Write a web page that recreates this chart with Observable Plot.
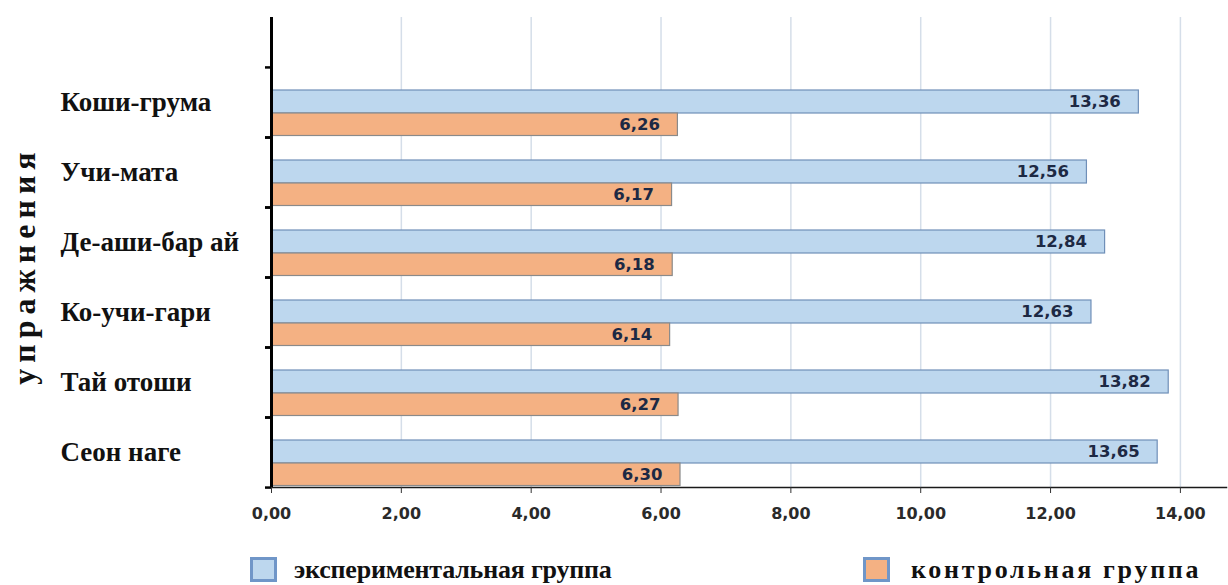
<!DOCTYPE html>
<html>
<head>
<meta charset="utf-8">
<script src="https://cdn.jsdelivr.net/npm/d3@7"></script>
<script src="https://cdn.jsdelivr.net/npm/@observablehq/plot@0.6"></script>
<style>
  html, body { margin: 0; padding: 0; background: #fff; }
  #wrap { position: relative; width: 1228px; height: 585px; overflow: hidden; }
  .lg-sw { position: absolute; width: 21px; height: 19px; border: 3px solid #7096c8; }
  .lg-tx { position: absolute; font-family: "Liberation Serif", serif; font-weight: bold; font-size: 26px; line-height: 30px; color: #111; white-space: nowrap; }
</style>
</head>
<body>
<div id="wrap"></div>
<script>
const categories = ["Коши-грума", "Учи-мата", "Де-аши-бар ай", "Ко-учи-гари", "Тай отоши", "Сеон наге"];
const experimental = [13.36, 12.56, 12.84, 12.63, 13.82, 13.65];
const control = [6.26, 6.17, 6.18, 6.14, 6.27, 6.30];
const xTicks = [0, 2, 4, 6, 8, 10, 12, 14];
const seriesNames = ["экспериментальная группа", "контрольная группа"];
const axisTitle = "упражнения";

const colors = { exp: "#bdd7ee", ctl: "#f4b183" };
const fmt = d => d.toFixed(2).replace(".", ",");
const data = categories.map((c, i) => ({ cat: c, exp: experimental[i], ctl: control[i] }));

const H = 540, MT = 17, MB = 53;
const bandStep = (H - MT - MB) / (categories.length + 0.7);

const chart = Plot.plot({
  width: 1228,
  height: H,
  marginLeft: 271,
  marginRight: 2,
  marginTop: MT,
  marginBottom: MB,
  x: { domain: [0, 14.71] },
  y: { domain: categories, paddingInner: 0, paddingOuter: 0.35, align: 1 },
  style: { background: "#fff", overflow: "visible" },
  marks: [
    Plot.gridX(xTicks.slice(1), { stroke: "#d5dee9", strokeOpacity: 1, strokeWidth: 1.5 }),
    Plot.barX(data, { y: "cat", x: "exp", fill: colors.exp, stroke: "#6f8fb8", strokeWidth: 1.2, insetTop: 23, insetBottom: 24 }),
    Plot.barX(data, { y: "cat", x: "ctl", fill: colors.ctl, stroke: "#8a8a8a", strokeWidth: 1.2, insetTop: 46, insetBottom: 1.5 }),
    Plot.text(data, { y: "cat", x: "exp", text: d => fmt(d.exp), textAnchor: "end", dx: -18, dy: -1,
      fill: "#1d2944", fontFamily: "DejaVu Sans", fontWeight: "bold", fontSize: 16.5 }),
    Plot.text(data, { y: "cat", x: "ctl", text: d => fmt(d.ctl), textAnchor: "end", dx: -18, dy: 22,
      fill: "#1d2944", fontFamily: "DejaVu Sans", fontWeight: "bold", fontSize: 16.5 }),
    Plot.frame({ anchor: "bottom", stroke: "#1a1a1a", strokeWidth: 1.5 }),
    Plot.axisX({ ticks: xTicks, tickFormat: fmt, tickSize: 6, tickPadding: 14, label: null,
      fontFamily: "DejaVu Sans", fontWeight: "bold", fontSize: 16, fill: "#2a2a2a", stroke: "#333" }),
    Plot.axisY({ tickSize: 0, tickPadding: 0, textAnchor: "start", dx: -211, label: null,
      fontFamily: "Liberation Serif", fontWeight: "bold", fontSize: 27, fill: "#111" }),
    Plot.axisY({ tickSize: 6, tickFormat: () => "", dy: bandStep / 2, label: null, stroke: "#000", strokeWidth: 2.5 }),
    Plot.axisY({ tickSize: 6, tickFormat: () => "", dy: -bandStep / 2, label: null, stroke: "#000", strokeWidth: 2.5 }),
    Plot.ruleX([0], { stroke: "#000", strokeWidth: 3 }),
    Plot.text([axisTitle], { frameAnchor: "left", textAnchor: "middle", rotate: -90, dx: -247, dy: 13,
      fontFamily: "Liberation Serif", fontWeight: "bold", fontSize: 32, fill: "#111" })
  ]
});

// letter spacing for rotated axis title
chart.querySelectorAll("text").forEach(t => {
  if (t.textContent === axisTitle) t.setAttribute("letter-spacing", "6");
});

const wrap = document.getElementById("wrap");
wrap.appendChild(chart);

const legendItems = [
  { name: seriesNames[0], color: colors.exp, sw: 250, tx: 294, ls: -0.2 },
  { name: seriesNames[1], color: colors.ctl, sw: 863, tx: 911, ls: 2.7 }
];
legendItems.forEach(it => {
  const s = document.createElement("div");
  s.className = "lg-sw";
  s.style.left = it.sw + "px";
  s.style.top = "557px";
  s.style.background = it.color;
  wrap.appendChild(s);
  const t = document.createElement("div");
  t.className = "lg-tx";
  t.style.left = it.tx + "px";
  t.style.top = "555px";
  t.style.letterSpacing = it.ls + "px";
  t.textContent = it.name;
  wrap.appendChild(t);
});
</script>
</body>
</html>
